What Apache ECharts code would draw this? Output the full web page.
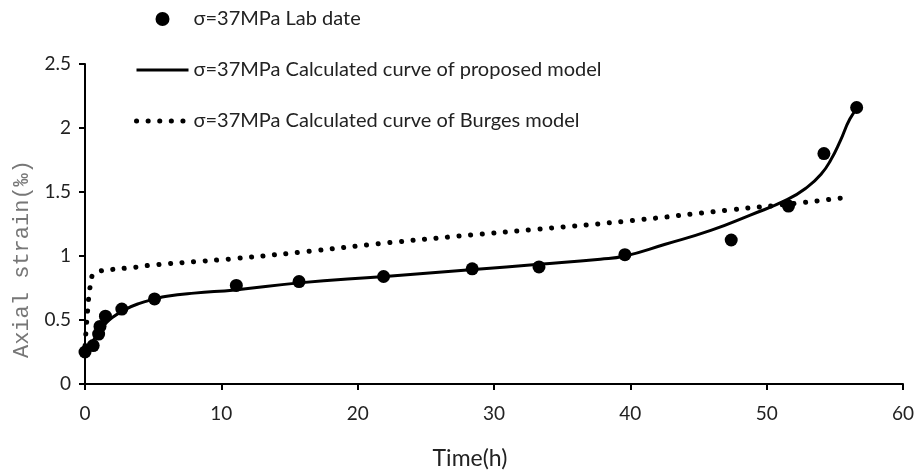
<!DOCTYPE html>
<html>
<head>
<meta charset="utf-8">
<script src="https://cdn.jsdelivr.net/npm/echarts@6/dist/echarts.min.js"></script>
<style>
    html, body { margin: 0; padding: 0; background: #fff; }
    #chart { width: 918px; height: 471px; }
</style>
</head>
<body>
<div id="chart"></div>
<script type="text/javascript">
    // lab data (time h, axial strain ‰)
    var labData = [
        [0, 0.25], [0.6, 0.30], [1.0, 0.39], [1.1, 0.45], [1.5, 0.53], [2.7, 0.585],
        [5.1, 0.665], [11.1, 0.77], [15.7, 0.80], [21.9, 0.84], [28.4, 0.90],
        [33.3, 0.915], [39.6, 1.01], [47.4, 1.125], [51.6, 1.39], [54.2, 1.80], [56.6, 2.16]
    ];
    // proposed model curve
    var proposedData = [
        [0, 0.25], [0.3, 0.29], [0.6, 0.34], [1, 0.40], [1.5, 0.47], [2, 0.52], [3, 0.585],
        [4, 0.63], [5, 0.66], [6, 0.685], [8, 0.71], [11, 0.735], [15.7, 0.79], [22, 0.84],
        [28.5, 0.895], [33.3, 0.935], [37.8, 0.975], [39.6, 1.0], [42.5, 1.09], [45.9, 1.2],
        [48.8, 1.32], [51.5, 1.44], [53, 1.54], [54, 1.64], [54.7, 1.75], [55.4, 1.9],
        [56.1, 2.07], [56.7, 2.16]
    ];
    // Burges model curve
    var burgesData = [
        [0, 0.30], [0.1, 0.45], [0.2, 0.58], [0.3, 0.70], [0.45, 0.80], [0.6, 0.86],
        [1, 0.88], [2, 0.895], [3.5, 0.91], [5, 0.93], [8, 0.955], [11, 0.98], [15.8, 1.03],
        [21.9, 1.10], [28.4, 1.165], [33.2, 1.21], [39.5, 1.27], [47.3, 1.36], [52, 1.41], [56, 1.46]
    ];
    var legendNames = [
        'σ=37MPa Lab date',
        'σ=37MPa Calculated curve of proposed model',
        'σ=37MPa Calculated curve of Burges model'
    ];

    var myChart = echarts.init(document.getElementById('chart'));
    var font = 'Lato, "Open Sans", sans-serif';

    var option = {
        animation: false,
        grid: { left: 85, right: 15, top: 64, bottom: 87, outerBoundsMode: 'none' },
        legend: {
            orient: 'vertical',
            left: 134,
            top: 8,
            padding: 0,
            itemWidth: 52,
            itemHeight: 14,
            itemGap: 29,
            textStyle: { fontFamily: font, fontSize: 20, color: '#222', lineHeight: 22 },
            data: [
                { name: legendNames[0], icon: 'circle' },
                { name: legendNames[1], itemStyle: { opacity: 0 }, lineStyle: { width: 3 } },
                { name: legendNames[2], itemStyle: { opacity: 0 }, lineStyle: { width: 5 } }
            ]
        },
        xAxis: {
            type: 'value',
            min: 0, max: 60, interval: 10,
            name: 'Time(h)',
            nameLocation: 'middle',
            nameGap: 63,
            nameTextStyle: { fontFamily: font, fontSize: 23, color: '#222', padding: [0, 48, 0, 0] },
            axisLine: { onZero: false, lineStyle: { color: '#000', width: 2 } },
            axisTick: { length: 6, lineStyle: { color: '#000', width: 2 } },
            axisLabel: { fontFamily: font, fontSize: 19, color: '#222', margin: 20 },
            splitLine: { show: false }
        },
        yAxis: {
            type: 'value',
            min: 0, max: 2.5, interval: 0.5,
            name: 'Axial strain(‰)',
            nameLocation: 'middle',
            nameGap: 52,
            nameTextStyle: { fontFamily: '"Liberation Mono", monospace', fontSize: 22, color: '#777', padding: [0, 70, 0, 0] },
            axisLine: { show: true, lineStyle: { color: '#000', width: 2 } },
            axisTick: { show: true, length: 6, lineStyle: { color: '#000', width: 2 } },
            axisLabel: { fontFamily: font, fontSize: 19, color: '#222', margin: 14 },
            splitLine: { show: false }
        },
        series: [
            {
                name: legendNames[0],
                type: 'scatter',
                symbol: 'circle',
                symbolSize: 13,
                itemStyle: { color: '#000', opacity: 1 },
                data: labData,
                z: 5
            },
            {
                name: legendNames[1],
                type: 'line',
                smooth: true,
                showSymbol: false,
                symbol: 'none',
                lineStyle: { color: '#000', width: 3 },
                itemStyle: { color: '#000' },
                data: proposedData
            },
            {
                name: legendNames[2],
                type: 'line',
                smooth: true,
                showSymbol: false,
                symbol: 'none',
                lineStyle: { color: '#000', width: 5, type: [0.1, 11.5], cap: 'round' },
                itemStyle: { color: '#000' },
                data: burgesData
            }
        ]
    };

    myChart.setOption(option, true);
</script>
</body>
</html>
